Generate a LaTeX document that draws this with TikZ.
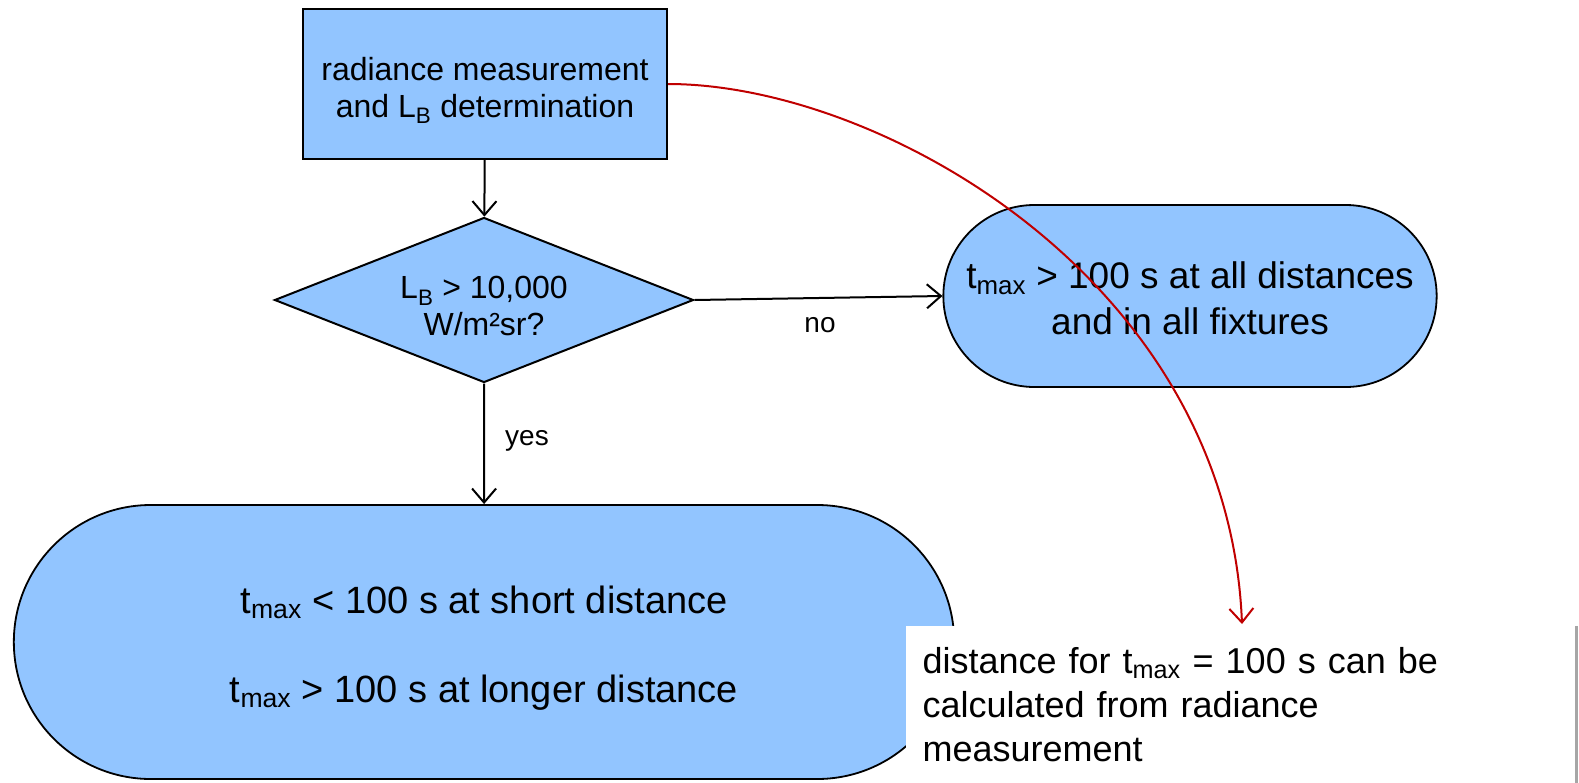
\documentclass[tikz,border=0pt]{standalone}
\usepackage{fontspec}
\setmainfont{Liberation Sans}
\usetikzlibrary{positioning, arrows.meta, shapes.geometric, shapes.misc}
\definecolor{boxblue}{RGB}{146,197,255}
\definecolor{linkred}{RGB}{192,0,0}
\newcommand{\tmax}{t\textsubscript{max}}

\begin{document}
\begin{tikzpicture}[x=1pt, y=-1pt,
    procbox/.style={rectangle, draw, line width=2pt, fill=boxblue, minimum width=364pt, minimum height=150pt, text height=73pt, align=center, font=\fontsize{32}{37}\selectfont},
    decision/.style={diamond, draw, line width=2pt, fill=boxblue, aspect=2.54, inner sep=0pt, minimum width=419pt, minimum height=165pt, text height=72pt, align=center, font=\fontsize{32}{37}\selectfont},
    terminal/.style={rounded rectangle, draw, line width=1.8pt, fill=boxblue, align=center},
    notebox/.style={rectangle, fill=white, minimum width=671pt, minimum height=158pt, text width=637pt, align=left, font=\fontsize{36}{44}\selectfont},
    arrow/.style={-{Straight Barb[length=14pt, width=24pt, line width=2pt]}, line width=2pt},
    redarrow/.style={-{Straight Barb[length=14pt, width=24pt, line width=2pt]}, line width=2pt, draw=linkred},
    lbl/.style={font=\fontsize{28}{32}\selectfont},
]
\useasboundingbox (0,0) rectangle (1579,782);

\node[procbox] (meas) at (485, 84) {radiance measurement\\and L\textsubscript{B} determination};
\node[decision] (dec) at (484, 300) {L\textsubscript{B} > 10,000\\W/m²sr?};
\node[terminal, minimum width=500pt, minimum height=182pt, text height=78pt, font=\fontsize{37}{46}\selectfont] (ok) at (1190, 296) {\tmax{} > 100 s at all distances\\and in all fixtures};
\node[terminal, minimum width=947pt, minimum height=274pt, text height=128pt, font=\fontsize{38}{44}\selectfont] (short) at (484, 642) {\tmax{} < 100 s at short distance\\[45pt]\tmax{} > 100 s at longer distance};

\draw[arrow] (meas) -- (dec);
\draw[arrow] (dec.east) -- (ok.west);
\draw[arrow] (dec) -- (short);
\node[lbl] (no) at (820, 325) {no};
\node[lbl] (yes) at (527, 441) {yes};

% link to the note
\draw[redarrow] (meas.east) .. controls (880, 84) and (1228, 280) .. (1242, 624);

\node[notebox] (calc) at (1241, 705) {distance for \tmax{} = 100 s can be\\calculated from radiance\\measurement};
\draw[line width=3pt, gray!70] (calc.north east) -- (calc.south east);
\end{tikzpicture}
\end{document}
